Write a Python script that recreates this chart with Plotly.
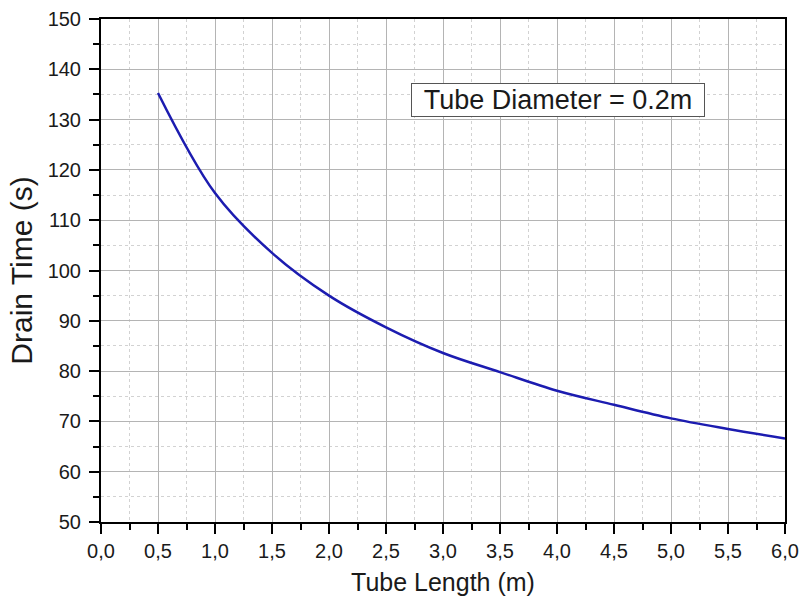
import plotly.graph_objects as go

tube_length = [0.5, 1.0, 1.5, 2.0, 2.5, 3.0, 3.5, 4.0, 4.5, 5.0, 5.5, 6.0]
drain_time = [135.3, 115.4, 103.5, 95.0, 88.7, 83.6, 79.8, 76.1, 73.3, 70.6, 68.5, 66.6]

x_title = "Tube Length (m)"
y_title = "Drain Time (s)"
label_text = "Tube Diameter = 0.2m"

FONT = "Liberation Sans"

fig = go.Figure()
fig.add_trace(go.Scatter(
    x=tube_length, y=drain_time, mode="lines",
    line=dict(color="#1c1cb0", width=2.5, shape="spline", smoothing=1.0),
    showlegend=False, hoverinfo="skip",
))

axis_common = dict(
    showline=True, linecolor="black", linewidth=2, mirror=True,
    ticks="outside", ticklen=10, tickwidth=2, tickcolor="black",
    showgrid=True, gridcolor="#b4b4b4", gridwidth=1.2,
    zeroline=False,
    tickfont=dict(family=FONT, size=20, color="#1a1a1a"),
)

fig.update_xaxes(
    **axis_common,
    range=[0, 6], dtick=0.5, tick0=0, tickformat=".1f",
    minor=dict(dtick=0.25, ticks="outside", ticklen=6, tickwidth=2, tickcolor="black",
               showgrid=True, gridcolor="#d2d2d2", griddash="dot", gridwidth=1),
    title=dict(text=x_title, font=dict(family=FONT, size=25, color="#1a1a1a"), standoff=12),
)
fig.update_yaxes(
    **axis_common,
    range=[50, 150], dtick=10, tick0=50, ticklabelstandoff=4,
    minor=dict(dtick=5, ticks="outside", ticklen=6, tickwidth=2, tickcolor="black",
               showgrid=True, gridcolor="#d2d2d2", griddash="dot", gridwidth=1),
    title=dict(text=y_title, font=dict(family=FONT, size=30, color="#1a1a1a"), standoff=6),
)

fig.add_annotation(
    x=4.01, y=133.8, xref="x", yref="y",
    text=label_text, showarrow=False,
    font=dict(family=FONT, size=27, color="#1a1a1a"),
    bgcolor="white", bordercolor="#555555", borderwidth=1, borderpad=1,
    width=290, align="center",
)

fig.update_layout(
    width=801, height=600,
    margin=dict(l=101, r=16, t=19, b=78, autoexpand=False),
    paper_bgcolor="white", plot_bgcolor="white",
    separators=",.",
    font=dict(family=FONT),
)

fig.write_html("out.html")
